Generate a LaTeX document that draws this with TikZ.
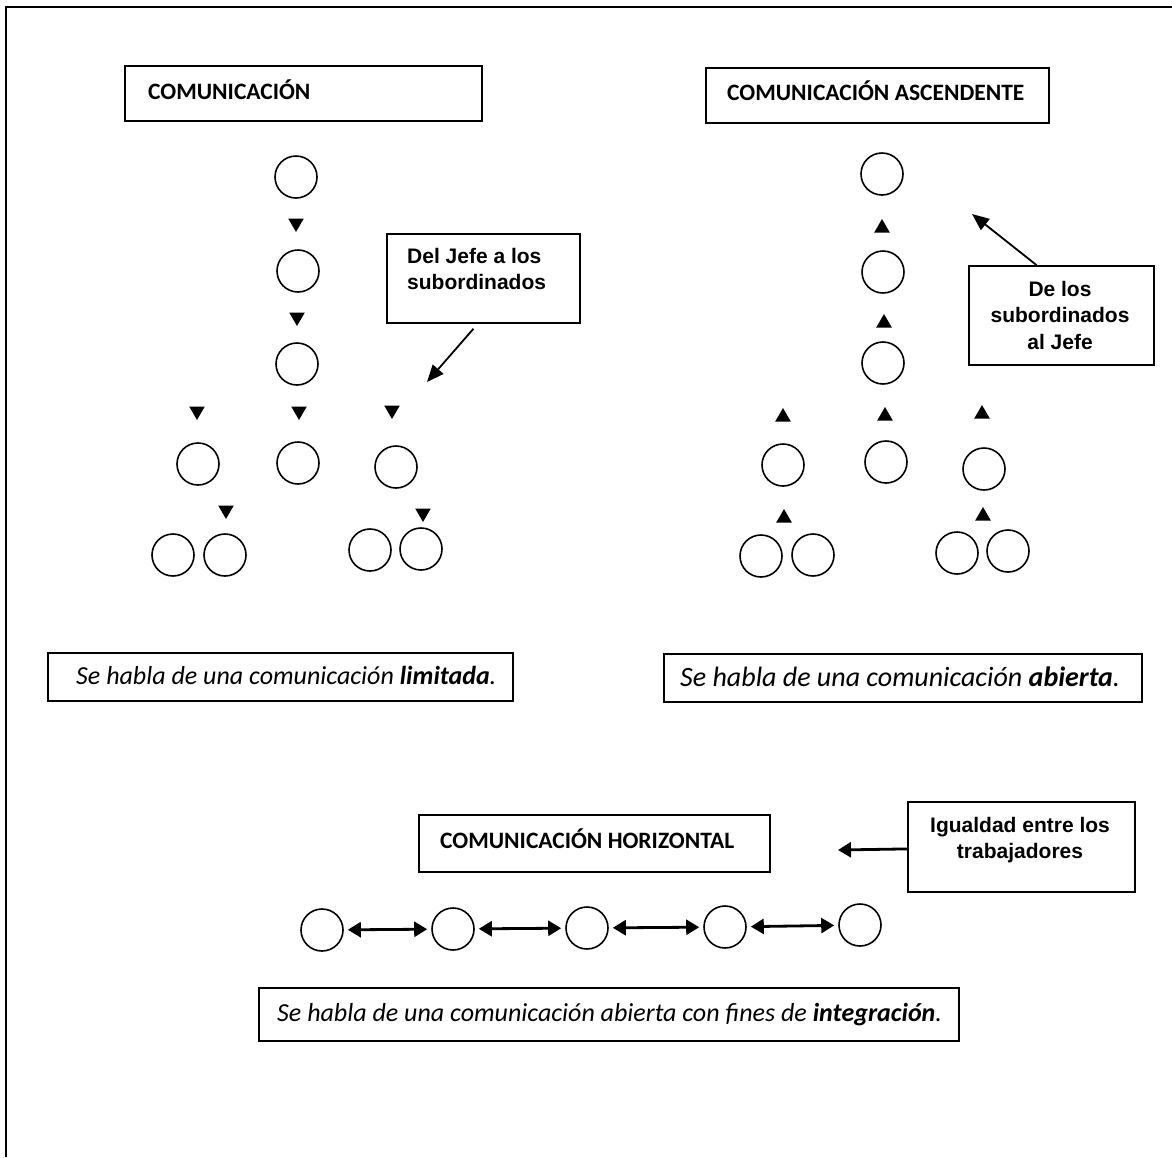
\documentclass[tikz,border=0pt]{standalone}
\usepackage{fontspec}
\setmainfont{Carlito}
\newfontfamily\arialfont{Liberation Sans}
\usetikzlibrary{arrows.meta,shapes.geometric}

\begin{document}
\begin{tikzpicture}[x=1pt,y=-1pt,
  frameline/.style={line width=2pt},
  boxline/.style={draw, line width=1.8pt, inner sep=0pt},
  headtext/.style={inner sep=0pt, font=\bfseries\fontsize{23.5}{28}\selectfont},
  calltext/.style={inner sep=0pt, align=center, font=\arialfont\bfseries\fontsize{21}{26.5}\selectfont},
  notetext/.style={inner sep=0pt, font=\itshape\fontsize{26}{31}\selectfont},
  bubble/.style={draw, circle, line width=1.6pt, minimum size=42pt, inner sep=0pt},
  tridown/.style={regular polygon, regular polygon sides=3, shape border rotate=180,
                  fill=black, minimum size=18pt, inner sep=0pt},
  triup/.style={regular polygon, regular polygon sides=3,
                fill=black, minimum size=18pt, inner sep=0pt},
  callarrow/.style={line width=1.8pt, -{Triangle[length=17pt,width=14pt]}},
  twoway/.style={line width=2.8pt, {Triangle[length=13pt,width=15pt]}-{Triangle[length=13pt,width=15pt]},
                 shorten <=4pt, shorten >=4pt},
]
\useasboundingbox (0,0) rectangle (1172,1157);

% page frame (left and top rules)
\coordinate (frameBL) at (6,1157);
\coordinate (frameTL) at (6,7);
\coordinate (frameTR) at (1172,7);
\draw[frameline] (frameBL) -- (frameTL) -- (frameTR);

%---------------- downward communication ----------------
\node[boxline, minimum width=357pt, minimum height=55pt, anchor=north west] (hdDown) at (124,65) {};
\node[headtext, anchor=base west] (hdDownTxt) at (148,99) {COMUNICACIÓN};

\node[bubble] (d1) at (296,177) {};
\node[tridown] (dt1) at (296,223) {};
\node[bubble] (d2) at (298,271) {};
\node[tridown] (dt2) at (297,317) {};
\node[bubble] (d3) at (297,364) {};
\node[tridown] (dt3) at (197,411) {};
\node[tridown] (dt4) at (299,411) {};
\node[tridown] (dt5) at (392,410) {};
\node[bubble] (d4) at (198,464) {};
\node[bubble] (d5) at (298,463) {};
\node[bubble] (d6) at (396,467) {};
\node[tridown] (dt6) at (226,510) {};
\node[tridown] (dt7) at (423,513) {};
\node[bubble] (d7) at (173,555) {};
\node[bubble] (d8) at (225,555) {};
\node[bubble] (d9) at (370,550) {};
\node[bubble] (d10) at (421,549) {};

\node[boxline, minimum width=193pt, minimum height=89pt, anchor=north west] (jefeBox) at (386,233) {};
\node[calltext, align=left, anchor=north west] (jefeTxt) at (407,248) {Del Jefe a los\\subordinados};
\coordinate (jefeTip) at (427,382);
\draw[callarrow] ([xshift=-10pt,yshift=-5pt]jefeBox.south) -- (jefeTip);

\node[boxline, minimum width=465pt, minimum height=48pt, anchor=north west] (noteDown) at (47,652) {};
\node[notetext, anchor=base west] (noteDownTxt) at (76,684) {Se habla de una comunicación \textbf{limitada}.};

%---------------- upward communication ----------------
\node[boxline, minimum width=343pt, minimum height=55pt, anchor=north west] (hdUp) at (705,67) {};
\node[headtext, anchor=base west] (hdUpTxt) at (727,100) {COMUNICACIÓN ASCENDENTE};

\node[bubble] (u1) at (882,174) {};
\node[triup] (ut1) at (882,228) {};
\node[bubble] (u2) at (883,272) {};
\node[triup] (ut2) at (884,323) {};
\node[bubble] (u3) at (883,363) {};
\node[triup] (ut3) at (783,417) {};
\node[triup] (ut4) at (885,416) {};
\node[triup] (ut5) at (982,414) {};
\node[bubble] (u4) at (783,465) {};
\node[bubble] (u5) at (886,462) {};
\node[bubble] (u6) at (984,469) {};
\node[triup] (ut6) at (784,518) {};
\node[triup] (ut7) at (983,516) {};
\node[bubble] (u7) at (761,556) {};
\node[bubble] (u8) at (813,555) {};
\node[bubble] (u9) at (957,553) {};
\node[bubble] (u10) at (1008,551) {};

\node[boxline, minimum width=185pt, minimum height=99pt, anchor=north west] (subBox) at (968,265) {};
\node[calltext] (subTxt) at (1060,315) {De los\\subordinados\\al Jefe};
\coordinate (subTip) at (972,214);
\draw[callarrow] ([xshift=-25pt]subBox.north) -- (subTip);

\node[boxline, minimum width=478pt, minimum height=48pt, anchor=north west] (noteUp) at (663,653) {};
\node[notetext, anchor=base west, font=\itshape\fontsize{28}{33}\selectfont] (noteUpTxt) at (680,686) {Se habla de una comunicación \textbf{abierta}.};

%---------------- horizontal communication ----------------
\node[boxline, minimum width=351pt, minimum height=57pt, anchor=north west] (hdSide) at (418,814) {};
\node[headtext, anchor=base west] (hdSideTxt) at (440,848) {COMUNICACIÓN HORIZONTAL};

\node[boxline, minimum width=227pt, minimum height=90pt, anchor=north west] (eqBox) at (907,801) {};
\node[calltext] (eqTxt) at (1020,840) {Igualdad entre los\\trabajadores};
\coordinate (eqTip) at (838,850);
\draw[line width=2.8pt, -{Triangle[length=13pt,width=15pt]}] ([yshift=-2pt]eqBox.west) -- (eqTip);

\node[bubble] (h1) at (322,930) {};
\node[bubble] (h2) at (453,929) {};
\node[bubble] (h3) at (587,928) {};
\node[bubble] (h4) at (725,927) {};
\node[bubble] (h5) at (860,925) {};
\draw[twoway] (h1) -- (h2);
\draw[twoway] (h2) -- (h3);
\draw[twoway] (h3) -- (h4);
\draw[twoway] (h4) -- (h5);

\node[boxline, minimum width=700pt, minimum height=53pt, anchor=north west] (noteSide) at (258,987) {};
\node[notetext, anchor=base west] (noteSideTxt) at (277,1021) {Se habla de una comunicación abierta con fines de \textbf{integración}.};
\end{tikzpicture}
\end{document}
